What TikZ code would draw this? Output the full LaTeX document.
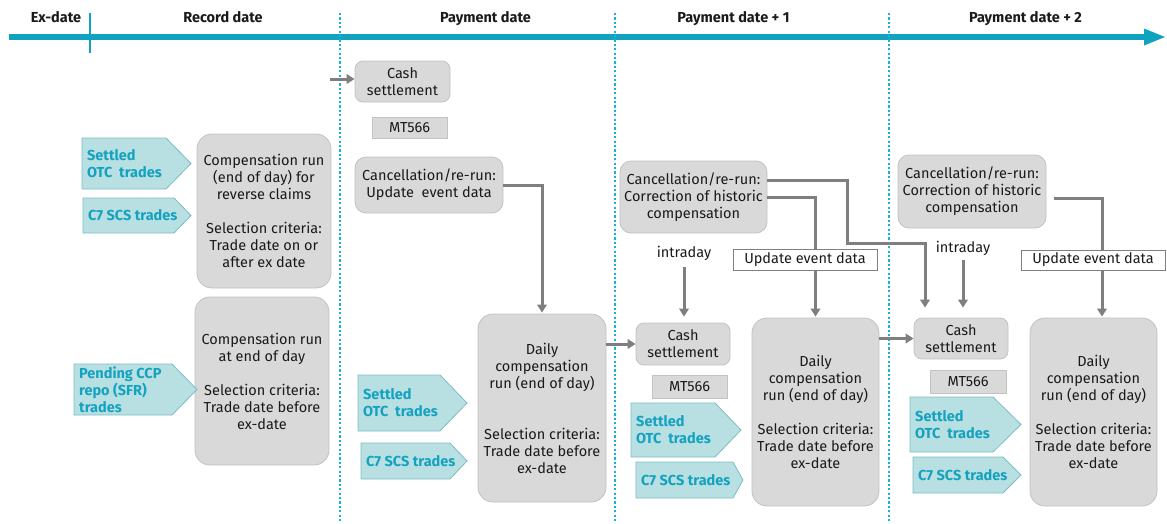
\documentclass[tikz,border=0pt]{standalone}
\usepackage{fontspec}
\setmainfont{Fira Sans}
\usetikzlibrary{arrows.meta,calc}
\definecolor{tlc}{HTML}{0FA3BF}
\definecolor{dotc}{HTML}{17B3D4}
\definecolor{gfill}{HTML}{D9D9D9}
\definecolor{gborder}{HTML}{C2C2C2}
\definecolor{cgray}{HTML}{7F7F7F}
\definecolor{tagfill}{HTML}{B8E0E3}
\definecolor{tagborder}{HTML}{7DBCC3}
\definecolor{tagtxt}{HTML}{14A2BF}
\definecolor{txt}{HTML}{1A1A1A}
\newcommand\mktag[7]{%
  \filldraw[fill=tagfill,draw=tagborder,line width=0.8pt]
    (#2,#3) -- (#4,#3) -- (#6,{(#3+#5)/2}) -- (#4,#5) -- (#2,#5) -- cycle;
  \node[tagtext] (#1) at ({#2+5},{(#3+#5)/2}) {#7};}
\begin{document}
\begin{tikzpicture}[x=1pt,y=-1pt,
  every node/.style={text=txt},
  head/.style={font=\bfseries\fontsize{14.5}{17}\selectfont, anchor=base, inner sep=0pt},
  gbox/.style={draw=gborder, fill=gfill, line width=0.8pt, rounded corners=15pt, align=center,
     font=\fontsize{14.5}{17}\selectfont, inner sep=0pt},
  cbox/.style={gbox, rounded corners=11pt},
  sbox/.style={gbox, rounded corners=8pt},
  mbox/.style={gbox, rounded corners=0pt},
  ubox/.style={draw=cgray, fill=white, line width=1pt, font=\fontsize{14.5}{17}\selectfont, inner sep=0pt},
  plain/.style={font=\fontsize{14.5}{17}\selectfont, inner sep=1pt},
  tagtext/.style={anchor=west, align=left, text=tagtxt, font=\bfseries\fontsize{14.5}{17}\selectfont, inner sep=0pt},
  conn/.style={draw=cgray, line width=3pt, -{Triangle[length=8pt,width=9.5pt]}},
  tline/.style={draw=tlc, line width=5.5pt},
  dotline/.style={draw=dotc, line width=2.6pt, dash pattern=on 2.2pt off 2.2pt}
]
\useasboundingbox (0,0) rectangle (1167,523);

% timeline
\coordinate (tlS) at (9,37);
\coordinate (tlE) at (1146,37);
\draw[tline] (tlS) -- (tlE);
\fill[tlc] (1144,28.5) -- (1165,37) -- (1144,45.5) -- cycle;
\coordinate (exT) at (90,13);
\coordinate (exB) at (90,53);
\draw[draw=tlc, line width=2.6pt] (exT) -- (exB);
\foreach \xx/\nm in {340/d1,615/d2,889/d3}{
  \coordinate (\nm t) at (\xx,13);
  \coordinate (\nm b) at (\xx,521);
  \draw[dotline] (\nm t) -- (\nm b);
}

% headers
\node[head] (hEx) at (56,22) {Ex-date};
\node[head] (hRec) at (223,22) {Record date};
\node[head] (hPay) at (485.5,22) {Payment date};
\node[head] (hP1) at (733.5,22) {Payment date + 1};
\node[head] (hP2) at (1025.5,22) {Payment date + 2};

% record date column
\node[gbox, minimum width=134pt, minimum height=154pt] (box1) at (264,211)
  {Compensation run\\(end of day) for\\reverse claims\\[17pt]Selection criteria:\\Trade date on or\\after ex date};
\node[gbox, minimum width=134pt, minimum height=168pt] (box2) at (262,381)
  {Compensation run\\at end of day\\[17pt]Selection criteria:\\Trade date before\\ex-date};
\mktag{t1}{82}{138}{166}{189}{191}{Settled\\OTC\ \ trades}
\mktag{t2}{83}{198}{174}{233}{191}{C7 SCS trades}
\mktag{t3}{74}{364}{172}{415}{197}{Pending CCP\\repo (SFR)\\trades}

% payment date column
\node[sbox, minimum width=95pt, minimum height=41pt] (cs1) at (402.5,81.5) {Cash\\settlement};
\node[mbox, minimum width=75pt, minimum height=21pt] (mt1) at (409.5,127.5) {MT566};
\node[cbox, minimum width=148pt, minimum height=56pt] (canc1) at (429,185) {Cancellation/re-run:\\Update\ \ event data};
\node[gbox, minimum width=128pt, minimum height=188pt] (daily1) at (542,408)
  {Daily\\compensation\\run (end of day)\\[34pt]Selection criteria:\\Trade date before\\ex-date};
\mktag{t4}{358}{375}{440}{431}{467}{Settled\\OTC\ \ trades}
\mktag{t5}{361}{443}{450}{479}{467}{C7 SCS trades}

% payment date + 1
\node[cbox, minimum width=147pt, minimum height=72pt] (canc2) at (693.5,197)
  {Cancellation/re-run:\\Correction of historic\\compensation};
\node[sbox, minimum width=94pt, minimum height=42pt] (cs2) at (683,344) {Cash\\settlement};
\node[mbox, minimum width=75pt, minimum height=23pt] (mt2) at (689.5,386.5) {MT566};
\node[gbox, minimum width=127pt, minimum height=188pt] (daily2) at (815.5,412)
  {Daily\\compensation\\run (end of day)\\[17pt]Selection criteria:\\Trade date before\\ex-date};
\node[plain] (in2) at (684,253) {intraday};
\mktag{t6}{631}{403}{715}{457}{741}{Settled\\OTC\ \ trades}
\mktag{t7}{636}{462}{733}{498}{743}{C7 SCS trades}

% payment date + 2
\node[cbox, minimum width=148pt, minimum height=73pt] (canc3) at (972,191.5)
  {Cancellation/re-run:\\Correction of historic\\compensation};
\node[sbox, minimum width=94pt, minimum height=41pt] (cs3) at (961,338.5) {Cash\\settlement};
\node[mbox, minimum width=76pt, minimum height=23pt] (mt3) at (968,381.5) {MT566};
\node[gbox, minimum width=127pt, minimum height=188pt] (daily3) at (1093.5,412)
  {Daily\\compensation\\run (end of day)\\[17pt]Selection criteria:\\Trade date before\\ex-date};
\node[plain] (in3) at (963,248) {intraday};
\mktag{t8}{910}{397}{993}{452}{1021}{Settled\\OTC\ \ trades}
\mktag{t9}{913}{457}{1003}{493}{1021}{C7 SCS trades}

% connectors
\coordinate (s0) at (330,79);
\draw[conn] (s0) -- (cs1.west |- s0);
\draw[conn, shorten >=1pt] (canc1.east) -| (daily1.north);
\draw[conn] (daily1.east |- cs2.west) -- (cs2.west);
\draw[conn, shorten >=1pt] (canc2.east) -| (daily2.north);
\draw[conn, shorten >=10pt] ([yshift=17pt]canc2.east) -| (847,243) -| ([xshift=-36pt]cs3.north);
\draw[conn, shorten <=6pt, shorten >=6pt] (in2.south) -- (in2.south |- cs2.north);
\draw[conn] (daily2.east |- cs3.west) -- (cs3.west);
\draw[conn, shorten <=4pt, shorten >=10pt] (in3.south) -- (in3.south |- cs3.north);
\draw[conn, shorten >=1pt] ([shift={(8pt,-6.5pt)}]canc3.east) -| ([xshift=8.5pt]daily3.north);

% update labels
\node[ubox, minimum width=144pt, minimum height=21pt] (upd2) at (805,259.5) {Update event data};
\node[ubox, minimum width=144pt, minimum height=20pt] (upd3) at (1093,260) {Update event data};
\end{tikzpicture}
\end{document}
